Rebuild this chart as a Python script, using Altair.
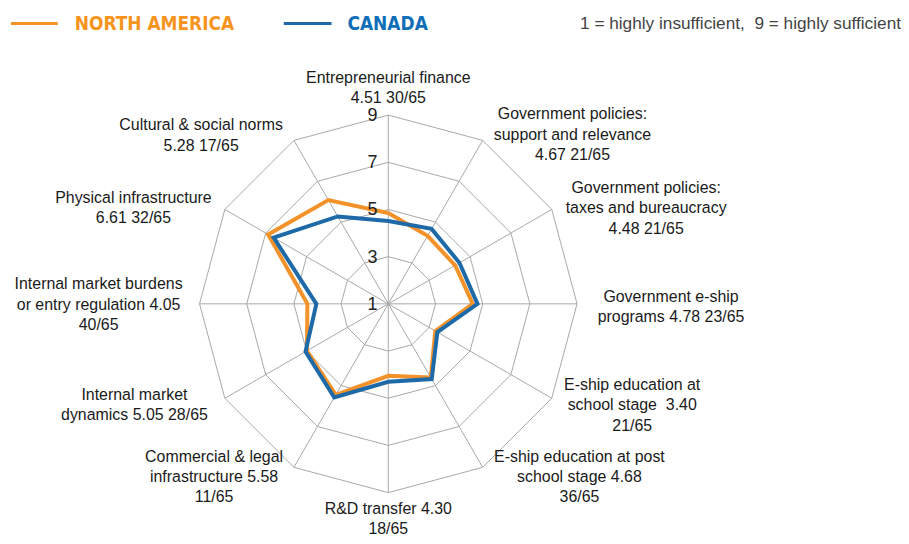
import math
import altair as alt
import pandas as pd

# ---------------- data ----------------
categories = [
    "Entrepreneurial finance",
    "Government policies: support and relevance",
    "Government policies: taxes and bureaucracy",
    "Government e-ship programs",
    "E-ship education at school stage",
    "E-ship education at post school stage",
    "R&D transfer",
    "Commercial & legal infrastructure",
    "Internal market dynamics",
    "Internal market burdens or entry regulation",
    "Physical infrastructure",
    "Cultural & social norms",
]
label_texts = [
    "Entrepreneurial finance\n4.51 30/65",
    "Government policies:\nsupport and relevance\n4.67 21/65",
    "Government policies:\ntaxes and bureaucracy\n4.48 21/65",
    "Government e-ship\nprograms 4.78 23/65",
    "E-ship education at\nschool stage\u00a0 3.40\n21/65",
    "E-ship education at post\nschool stage 4.68\n36/65",
    "R&D transfer 4.30\n18/65",
    "Commercial & legal\ninfrastructure 5.58\n11/65",
    "Internal market\ndynamics 5.05 28/65",
    "Internal market burdens\nor entry regulation 4.05\n40/65",
    "Physical infrastructure\n6.61 32/65",
    "Cultural & social norms\n5.28 17/65",
]
canada = [4.51, 4.67, 4.48, 4.78, 3.40, 4.68, 4.30, 5.58, 5.05, 4.05, 6.61, 5.28]
north_america = [4.85, 4.33, 4.27, 4.58, 3.30, 4.60, 4.05, 5.45, 4.98, 4.43, 6.88, 6.08]
series_names = ["NORTH AMERICA", "CANADA"]
ring_levels = [3, 5, 7, 9]
tick_levels = [1, 3, 5, 7, 9]
scale_min = 1
scale_max = 9
note_text = "1 = highly insufficient,\u00a0 9 = highly sufficient"

# ---------------- layout ----------------
W, H = 897, 528
CX, CY = 382, 296          # centre of the radar in plot pixels
S = 23.7                   # pixels per scale unit
LH = 20.5                  # label line height
label_offsets = [          # label centre offsets from the radar centre (px)
    (0, -217), (185, -170), (259, -96), (284, 3), (245, 102), (192, 174),
    (0, 216), (-175, 174), (-255, 101.5), (-291, 1), (-256, -96.5), (-188, -169),
]
ORANGE = "#F4922A"
BLUE = "#1E69A8"
GRID = "#A8A8A8"
FONT = "Liberation Sans"

n = len(categories)


def pos(i, v):
    a = 2 * math.pi * i / n
    r = v - scale_min
    return r * math.sin(a), r * math.cos(a)


# series rows
rows = []
for name, vals in zip(series_names, [north_america, canada]):
    for k in range(n + 1):
        i = k % n
        x, y = pos(i, vals[i])
        rows.append({"series": name, "order": k, "category": categories[i],
                     "value": vals[i], "x": x, "y": y})
series_df = pd.DataFrame(rows)

ring_rows = []
for lv in ring_levels:
    for k in range(n + 1):
        x, y = pos(k % n, lv)
        ring_rows.append({"level": lv, "order": k, "x": x, "y": y})
ring_df = pd.DataFrame(ring_rows)

spoke_rows = []
for i in range(n):
    x2, y2 = pos(i, scale_max)
    spoke_rows.append({"x": 0.0, "y": 0.0, "x2": x2, "y2": y2})
spoke_df = pd.DataFrame(spoke_rows)

tick_df = pd.DataFrame({"x": [0.0] * len(tick_levels),
                        "y": [lv - scale_min for lv in tick_levels],
                        "t": [str(lv) for lv in tick_levels]})

lab_x, lab_y = [], []
for (dx, dy), t in zip(label_offsets, label_texts):
    nl = t.count("\n") + 1
    first = dy - (nl - 1) * LH / 2
    lab_x.append(dx / S)
    lab_y.append(-first / S)
lab_df = pd.DataFrame({"x": lab_x, "y": lab_y, "t": label_texts})

xs = alt.Scale(domain=[-CX / S, (W - CX) / S], nice=False, zero=False)
ys = alt.Scale(domain=[-(H - CY) / S, CY / S], nice=False, zero=False)
X = alt.X("x:Q", scale=xs, axis=None)
Y = alt.Y("y:Q", scale=ys, axis=None)

rings = alt.Chart(ring_df).mark_line(color=GRID, strokeWidth=1).encode(
    x=X, y=Y, order="order:Q", detail="level:N")

spokes = alt.Chart(spoke_df).mark_rule(color=GRID, strokeWidth=1).encode(
    x=X, y=Y, x2="x2:Q", y2="y2:Q")

color_scale = alt.Scale(domain=series_names, range=[ORANGE, BLUE])
lines = alt.Chart(series_df).mark_line(strokeWidth=4, strokeJoin="miter").encode(
    x=X, y=Y, order="order:Q",
    color=alt.Color("series:N", scale=color_scale, legend=None),
    tooltip=["series:N", "category:N", "value:Q"])
na_line = lines.transform_filter(alt.datum.series == "NORTH AMERICA")
ca_line = lines.transform_filter(alt.datum.series == "CANADA")

ticks = alt.Chart(tick_df).mark_text(
    align="right", baseline="middle", dx=-11, dy=1, fontSize=18, font=FONT, color="#222222"
).encode(x=X, y=Y, text="t:N")

labels = alt.Chart(lab_df).mark_text(
    align="center", baseline="middle", lineBreak="\n", lineHeight=LH,
    fontSize=16, font=FONT, color="#1a1a1a"
).encode(x=X, y=Y, text="t:N")

one = pd.DataFrame({"a": [0]})
LEGFONT = "Liberation Sans Narrow, DejaVu Sans Condensed"
leg_na_line = alt.Chart(one).mark_rule(color=ORANGE, strokeWidth=3).encode(
    x=alt.value(3), x2=alt.value(50), y=alt.value(14.5))
leg_na_text = alt.Chart(one).mark_text(
    align="left", baseline="middle", fontSize=19, fontWeight="bold",
    font=LEGFONT, color="#F7941E"
).encode(x=alt.value(67), y=alt.value(15), text=alt.value(series_names[0]))
leg_ca_line = alt.Chart(one).mark_rule(color=BLUE, strokeWidth=3).encode(
    x=alt.value(277), x2=alt.value(325), y=alt.value(14.5))
leg_ca_text = alt.Chart(one).mark_text(
    align="left", baseline="middle", fontSize=19, fontWeight="bold",
    font=LEGFONT, color="#0E6EB8"
).encode(x=alt.value(341), y=alt.value(15), text=alt.value(series_names[1]))
note = alt.Chart(one).mark_text(
    align="right", baseline="middle", fontSize=17.3, font=FONT, color="#444444"
).encode(x=alt.value(W), y=alt.value(15), text=alt.value(note_text))

chart = alt.layer(
    rings, spokes, na_line, ca_line, ticks, labels,
    leg_na_line, leg_na_text, leg_ca_line, leg_ca_text, note
).properties(
    width=W, height=H, padding=0, autosize=alt.AutoSizeParams(type="none")
).configure_view(stroke=None)

chart.save("out.html", embed_options={"renderer": "svg", "actions": False})
